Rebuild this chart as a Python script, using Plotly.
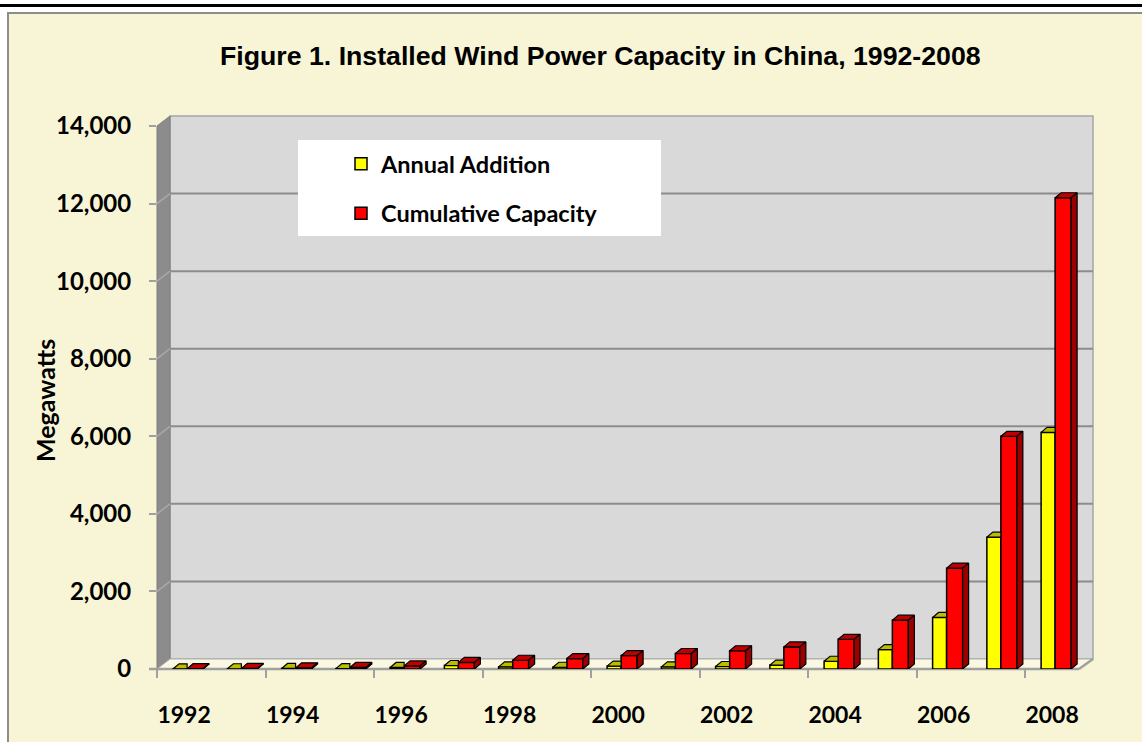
import plotly.graph_objects as go

# ---------------- data ----------------
years = [1992, 1993, 1994, 1995, 1996, 1997, 1998, 1999, 2000,
         2001, 2002, 2003, 2004, 2005, 2006, 2007, 2008]
annual_addition = [5, 6, 15, 10, 40, 90, 55, 45, 75,
                   55, 65, 100, 200, 500, 1330, 3400, 6100]
cumulative_capacity = [8, 15, 30, 40, 80, 170, 225, 270, 345,
                       400, 470, 570, 765, 1260, 2600, 6000, 12150]
series_names = ["Annual Addition", "Cumulative Capacity"]
y_ticks = [0, 2000, 4000, 6000, 8000, 10000, 12000, 14000]
x_label_years = [1992, 1994, 1996, 1998, 2000, 2002, 2004, 2006, 2008]
title_text = "Figure 1. Installed Wind Power Capacity in China, 1992-2008"
y_title = "Megawatts"

# ---------------- geometry / style ----------------
W, H = 1142, 742
L, R, T, B = 157, 1093, 116, 669          # plot area in pixels
PX_PER_YEAR = 54.25
PX_PER_UNIT = (B - 126) / 14000.0
XR = [1991.5, 1991.5 + (R - L) / PX_PER_YEAR]
YR = [0, (B - T) / PX_PER_UNIT]

def px(x):
    return (x - L) / (R - L)

def py(y):
    return (B - y) / (B - T)

CREAM = "#F8F5D6"
WALL = "#D9D9D9"
SIDEWALL = "#8C8C8C"
GRID = "#8C8C8C"
AXC = "#A0A0A0"
FONT = "Lato"

# bar placement inside each category (in year units)
Y_OFF, Y_W = -0.203, 0.258
R_OFF, R_W = 0.055, 0.295
DX = 6 / PX_PER_YEAR          # 3-D depth, x
DY = 5 / PX_PER_UNIT          # 3-D depth, y

fig = go.Figure()

fig.add_trace(go.Bar(x=years, y=annual_addition, name=series_names[0],
                     offset=Y_OFF, width=Y_W, legendgroup="a",
                     marker=dict(color="#FFFF00", line=dict(color="black", width=1.5))))
fig.add_trace(go.Bar(x=years, y=cumulative_capacity, name=series_names[1],
                     offset=R_OFF, width=R_W, legendgroup="b",
                     marker=dict(color="#FF0000", line=dict(color="black", width=1.5))))


def faces(vals, off, wid, kind, clip=False):
    xs, ys = [], []
    for yr, v in zip(years, vals):
        x0 = yr + off
        x1 = x0 + wid
        if kind == "top":
            if clip:
                pts = [(x0, v), (x1, v), (x1, v + DY), (x0 + DX, v + DY), (x0, v)]
            else:
                pts = [(x0, v), (x1, v), (x1 + DX, v + DY), (x0 + DX, v + DY), (x0, v)]
        else:
            pts = [(x1, 0), (x1, v), (x1 + DX, v + DY), (x1 + DX, DY), (x1, 0)]
        for a, b in pts:
            xs.append(a)
            ys.append(b)
        xs.append(None)
        ys.append(None)
    return xs, ys


for vals, off, wid, kind, clip, col in [
    (annual_addition, Y_OFF, Y_W, "top", True, "#BDBD00"),
    (cumulative_capacity, R_OFF, R_W, "top", False, "#C00000"),
    (cumulative_capacity, R_OFF, R_W, "side", False, "#9A0000"),
]:
    xs, ys = faces(vals, off, wid, kind, clip)
    fig.add_trace(go.Scatter(x=xs, y=ys, mode="lines", fill="toself",
                             fillcolor=col, line=dict(color="black", width=1.2),
                             showlegend=False, hoverinfo="skip"))

shapes = []
# chart frame and top rule
shapes.append(dict(type="rect", xref="paper", yref="paper",
                   x0=px(8), x1=px(1160), y0=py(13), y1=py(760),
                   fillcolor=CREAM, line=dict(color="#8C8C8C", width=2), layer="below"))
shapes.append(dict(type="line", xref="paper", yref="paper",
                   x0=px(0), x1=px(1142), y0=py(5.5), y1=py(5.5),
                   line=dict(color="black", width=3), layer="below"))
# back wall
shapes.append(dict(type="rect", xref="paper", yref="paper",
                   x0=px(170), x1=px(1093), y0=py(659), y1=py(116),
                   fillcolor=WALL, line=dict(color="#A6A6A6", width=1.5), layer="below"))
# left side wall
shapes.append(dict(type="path", xref="paper", yref="paper",
                   path="M {} {} L {} {} L {} {} L {} {} Z".format(
                       px(157), py(126), px(170), py(116), px(170), py(659), px(157), py(669)),
                   fillcolor=SIDEWALL, line=dict(color="#7F7F7F", width=1), layer="below"))
# floor
shapes.append(dict(type="path", xref="paper", yref="paper",
                   path="M {} {} L {} {} L {} {} L {} {} Z".format(
                       px(157), py(669), px(1079), py(669), px(1093), py(659), px(170), py(659)),
                   fillcolor="#FAF8E2", line=dict(color="#B0B0B0", width=1), layer="below"))
# gridlines on the back wall + slants on the side wall
for v in y_ticks[1:-1]:
    yp = B - v * PX_PER_UNIT
    shapes.append(dict(type="line", xref="paper", yref="paper",
                       x0=px(170), x1=px(1093), y0=py(yp - 10), y1=py(yp - 10),
                       line=dict(color=GRID, width=2), layer="below"))
    shapes.append(dict(type="line", xref="paper", yref="paper",
                       x0=px(157), x1=px(170), y0=py(yp), y1=py(yp - 10),
                       line=dict(color="#A8A8A8", width=1.5), layer="below"))
# front axis edge
shapes.append(dict(type="line", xref="paper", yref="paper",
                   x0=px(149), x1=px(1079), y0=py(669), y1=py(669),
                   line=dict(color=AXC, width=2.5), layer="below"))
shapes.append(dict(type="line", xref="paper", yref="paper",
                   x0=px(1079), x1=px(1093), y0=py(669), y1=py(659),
                   line=dict(color=AXC, width=2.5), layer="below"))
# legend box
shapes.append(dict(type="rect", xref="paper", yref="paper",
                   x0=px(298), x1=px(661), y0=py(236), y1=py(140),
                   fillcolor="white", line=dict(width=0), layer="below"))

annotations = [
    dict(text="<b>" + title_text + "</b>", xref="paper", yref="paper",
         x=px(600), y=py(56), xanchor="center", yanchor="middle", showarrow=False,
         font=dict(family="Liberation Sans", size=26.7, color="black")),
    dict(text="<b>" + y_title + "</b>", xref="paper", yref="paper",
         x=px(45), y=py(401), xanchor="center", yanchor="middle", showarrow=False,
         textangle=-90, font=dict(family=FONT, size=25, color="black")),
]

fig.update_layout(
    width=W, height=H,
    margin=dict(l=L, r=W - R, t=T, b=H - B, pad=0),
    paper_bgcolor="white", plot_bgcolor="rgba(0,0,0,0)",
    barmode="overlay", showlegend=True,
    shapes=shapes, annotations=annotations,
    legend=dict(x=px(341), y=py(142), xanchor="left", yanchor="top",
                bgcolor="rgba(0,0,0,0)", traceorder="grouped", tracegroupgap=16,
                font=dict(family=FONT, size=23.5, color="black", weight="bold"),
                itemclick=False, itemdoubleclick=False),
    xaxis=dict(range=XR, showgrid=False, zeroline=False, showline=False,
               tickmode="array", tickvals=x_label_years,
               ticktext=[str(y) for y in x_label_years], ticks="",
               ticklabelstandoff=30,
               tickfont=dict(family=FONT, size=23, color="black", weight="bold"),
               minor=dict(tick0=1991.5, dtick=2, ticks="outside", ticklen=8,
                          tickwidth=2, tickcolor=AXC, showgrid=False)),
    yaxis=dict(range=YR, showgrid=False, zeroline=False, showline=False,
               tickmode="array", tickvals=y_ticks, tickformat=",",
               ticks="outside", ticklen=7, tickwidth=2, tickcolor=AXC,
               ticklabelstandoff=13,
               tickfont=dict(family=FONT, size=24, color="black", weight="bold")),
)

fig.write_html("out.html", config={"displayModeBar": False},
               post_script="document.body.style.margin='0';")
